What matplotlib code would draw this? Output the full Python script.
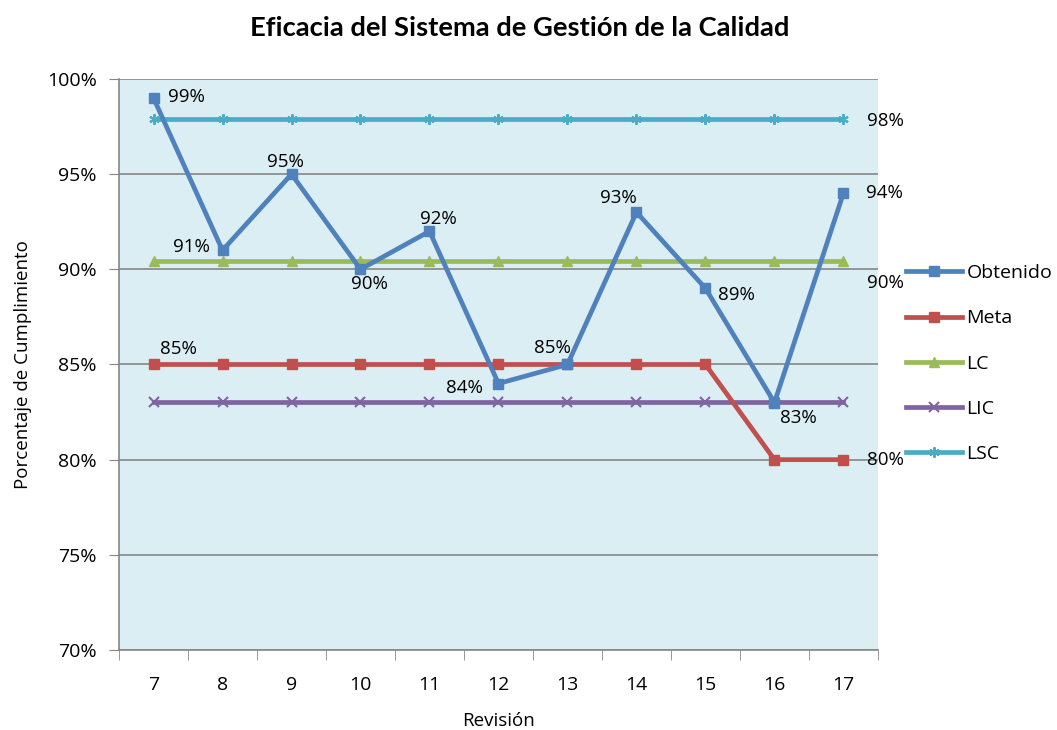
import matplotlib

matplotlib.use("Agg")
import matplotlib.pyplot as plt
import numpy as np

plt.rcParams["font.family"] = ["Open Sans", "DejaVu Sans"]

revisiones = [7, 8, 9, 10, 11, 12, 13, 14, 15, 16, 17]
obtenido = [99, 91, 95, 90, 92, 84, 85, 93, 89, 83, 94]
meta = [85, 85, 85, 85, 85, 85, 85, 85, 85, 80, 80]
lc = [90.45] * 11
lic = [83.05] * 11
lsc = [97.9] * 11

# label offsets (pixels) for the Obtenido values
obt_offsets = [(33, 1), (-31, 3), (-6, 12), (9, -15), (9, 12), (-34, -4),
               (-15, 16), (-18, 14), (31, -7), (24, -15), (41, 0)]

COLORS = {"Obtenido": "#4F81BD", "Meta": "#C0504D", "LC": "#9BBB59",
          "LIC": "#8064A2", "LSC": "#4BACC6"}

fig = plt.figure(figsize=(10.57, 7.3), dpi=100)
ax = fig.add_axes([0.1126, 0.1096, 0.718, 0.7822])
ax.set_facecolor("#DBEEF3")

x = np.arange(len(revisiones))
lw = 3.4
ax.plot(x, obtenido, color=COLORS["Obtenido"], lw=lw, marker="s", ms=6.5, label="Obtenido", zorder=6)
ax.plot(x, meta, color=COLORS["Meta"], lw=lw, marker="s", ms=6.5, label="Meta", zorder=4)
ax.plot(x, lc, color=COLORS["LC"], lw=lw, marker="^", ms=6.5, label="LC", zorder=3)
ax.plot(x, lic, color=COLORS["LIC"], lw=lw, marker="x", ms=6.5, mew=1.5, label="LIC", zorder=3)
ax.plot(x, lsc, color=COLORS["LSC"], lw=lw, marker=(6, 2, 0), ms=7.5, mew=1.5, label="LSC", zorder=3)

fs = 13.5
for xi, v, off in zip(x, obtenido, obt_offsets):
    ax.annotate(f"{v}%", (xi, v), xytext=off, textcoords="offset pixels",
                ha="center", va="center", fontsize=fs, zorder=8)
ax.annotate(f"{meta[0]}%", (x[0], meta[0]), xytext=(25, 15), textcoords="offset pixels",
            ha="center", va="center", fontsize=fs)
ax.annotate(f"{meta[-1]}%", (x[-1], meta[-1]), xytext=(42, 0), textcoords="offset pixels",
            ha="center", va="center", fontsize=fs)
ax.annotate("90%", (x[-1], lc[-1]), xytext=(42, -22), textcoords="offset pixels",
            ha="center", va="center", fontsize=fs)
ax.annotate("98%", (x[-1], lsc[-1]), xytext=(42, -2), textcoords="offset pixels",
            ha="center", va="center", fontsize=fs)

ax.set_xlim(-0.5, len(x) - 0.5)
ax.set_ylim(70, 100)
ax.set_yticks(np.arange(70, 101, 5))
ax.set_yticklabels([f"{t}%" for t in range(70, 101, 5)], fontsize=14)
ax.set_xticks(x)
ax.set_xticklabels([str(r) for r in revisiones], fontsize=14)
ax.set_xticks(np.arange(-0.5, len(x), 1), minor=True)
ax.tick_params(axis="x", which="major", length=0, pad=19)
ax.tick_params(axis="x", which="minor", length=7, color="#868686", direction="out")
ax.tick_params(axis="y", length=7, color="#868686", direction="out", pad=9)
ax.grid(axis="y", color="#868686", lw=1.2, zorder=1)
ax.set_axisbelow(True)
for side in ("top", "right"):
    ax.spines[side].set_visible(False)
for side in ("left", "bottom"):
    ax.spines[side].set_color("#868686")
    ax.spines[side].set_linewidth(1.2)

ax.set_ylabel("Porcentaje de Cumplimiento", fontsize=13.5, va="center")
ax.yaxis.set_label_coords(-0.127, 0.5)
ax.set_xlabel("Revisión", fontsize=13.5, va="center")
ax.xaxis.set_label_coords(0.5, -0.125)
fig.text(0.4917, 0.962, "Eficacia del Sistema de Gestión de la Calidad",
         family=["Lato", "DejaVu Sans"], fontsize=19.7, fontweight="bold",
         ha="center", va="center")

handles, labels = ax.get_legend_handles_labels()
fig.legend(handles, labels, loc="center left", bbox_to_anchor=(0.85, 0.502),
           frameon=False, fontsize=14, handlelength=2.85, handletextpad=0.25,
           labelspacing=1.4, borderaxespad=0)

fig.savefig("out.png", dpi=100)
